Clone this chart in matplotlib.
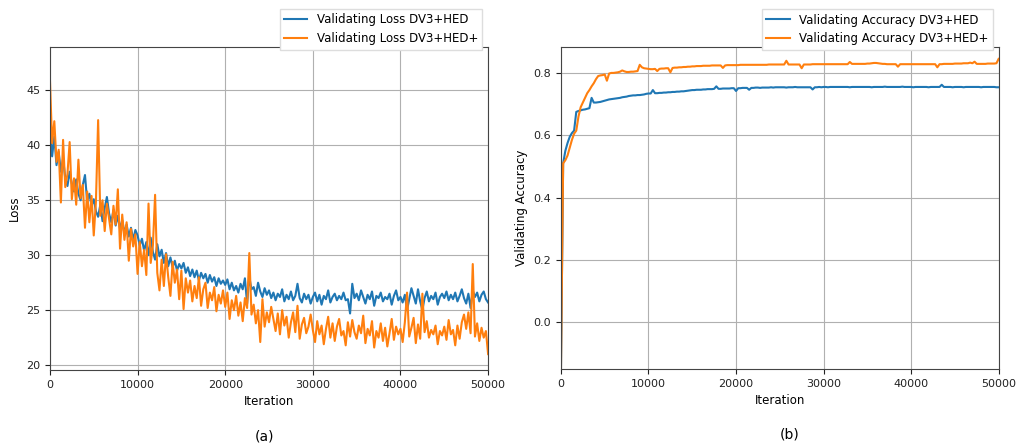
import matplotlib
matplotlib.use("Agg")
import matplotlib.pyplot as plt
import numpy as np

# 数据：每250次迭代记录一次
step = 250

loss_hed = [
    41.5, 39.0, 40.8, 38.2, 39.4, 37.6, 38.8, 37.0, 36.3, 37.6, 36.5, 35.8, 36.9, 35.6, 35.0, 36.4, 37.3, 34.9, 35.6, 34.5,
    35.1, 34.0, 33.5, 34.6, 33.1, 34.3, 35.3, 33.8, 33.0, 34.1, 32.7, 33.6, 32.4, 33.2, 32.0, 32.8, 31.7, 32.5, 31.4, 32.3,
    31.8, 30.9, 31.5, 30.4, 31.2, 30.0, 31.6, 30.3, 29.6, 31.0, 29.9, 30.5, 29.3, 30.2, 29.0, 29.8, 28.9, 29.5, 28.6, 29.2,
    28.8, 29.3, 28.4, 28.9, 28.1, 28.7, 28.0, 28.6, 27.7, 28.4, 27.9, 28.3, 27.5, 28.2, 27.6, 28.0, 27.2, 27.9, 27.4, 27.7,
    27.3, 27.8, 26.9, 27.5, 26.8, 27.2, 26.6, 27.4, 26.9, 27.9, 25.6, 28.0, 26.9, 27.1, 26.3, 27.5, 26.7, 26.2, 27.0, 26.4,
    26.8, 26.1, 26.6, 25.9, 26.5, 26.2, 26.9, 25.8, 26.4, 26.0, 26.7, 25.9, 26.3, 27.4, 26.1, 25.7, 26.5, 26.0, 26.4, 25.6,
    26.2, 26.6, 25.8, 26.4, 25.5, 26.3, 26.0, 26.8, 25.7, 26.2, 26.5, 25.9, 26.3, 26.0, 26.6, 25.9, 26.0, 24.7, 27.4, 26.1,
    26.5, 25.9, 26.8, 26.2, 25.6, 26.4, 26.0, 26.7, 25.4, 26.3, 26.1, 26.6, 25.8, 26.2, 26.0, 26.5, 25.5, 26.3, 26.8, 25.9,
    26.2, 25.7, 26.4, 25.0, 26.0, 27.0, 26.3, 25.6, 26.9, 25.8, 25.0, 26.1, 26.7, 25.8, 26.3, 26.0, 26.6, 25.5, 26.2, 26.5,
    26.1, 26.7, 25.9, 26.4, 26.0, 26.6, 25.8, 26.3, 26.9, 26.1, 25.6, 26.5, 25.2, 26.8, 26.2, 26.6, 25.8, 26.4, 26.7, 26.0,
    25.7,
]

loss_hed_plus = [
    46.0, 40.2, 42.2, 38.5, 39.6, 34.8, 40.5, 36.2, 37.4, 40.3, 35.1, 37.0, 34.6, 38.7, 35.2, 36.4, 32.5, 35.8, 33.0, 35.4,
    31.8, 34.9, 42.3, 33.6, 35.0, 32.2, 34.7, 33.3, 31.9, 34.5, 32.8, 36.0, 30.6, 33.7, 31.4, 33.0, 29.5, 32.4, 30.8, 31.9,
    28.3, 31.2, 29.0, 30.5, 28.2, 34.7, 29.3, 30.9, 35.5, 28.4, 26.8, 29.6, 27.2, 30.1, 28.0, 26.3, 29.4, 27.5, 28.7, 26.0,
    28.6, 25.1, 27.9, 26.6, 27.7, 25.8, 27.2, 26.1, 28.0, 25.4, 26.9, 27.5, 25.2, 26.6, 25.9, 27.1, 24.9, 26.4, 25.6, 26.8,
    25.3, 26.6, 24.2, 25.9, 25.0, 26.3, 24.5, 25.7, 24.0, 26.1, 25.2, 30.2, 24.6, 25.5, 23.8, 25.0, 22.1, 26.0, 23.5, 24.8,
    23.9, 25.3, 24.2, 23.1, 24.7, 22.8, 25.0, 23.6, 24.4, 22.5, 23.9, 24.8, 23.0, 25.4, 22.4, 23.7, 24.3, 22.9, 23.5, 24.6,
    23.2, 22.1, 24.0, 22.8, 23.6, 21.9, 23.3, 24.4, 22.5, 23.8, 22.2, 23.5, 24.2, 22.7, 23.1, 21.8, 23.9, 22.6, 24.1, 23.0,
    22.4, 23.6, 22.9, 24.5, 22.0, 23.3, 22.7, 24.0, 21.6, 23.1, 22.5, 23.8, 22.2, 23.4, 21.7, 22.9, 24.2, 22.3, 23.5, 22.8,
    23.3, 22.1, 23.9, 26.6, 22.6, 23.4, 24.3, 22.0, 23.7, 22.4, 26.5, 23.0, 24.0, 22.5, 23.2, 22.8, 23.6, 21.9, 23.1, 22.7,
    23.5, 22.3, 24.1, 22.8, 23.2, 21.8, 23.6, 22.4, 23.9, 24.6, 23.3, 24.8, 22.9, 29.2, 22.6, 23.8, 22.2, 23.4, 22.5, 23.1,
    21.0,
]

acc_hed = [
    -0.15, 0.51, 0.55, 0.575, 0.595, 0.607, 0.615, 0.675, 0.678, 0.680, 0.682, 0.683, 0.685, 0.687, 0.720, 0.705, 0.705, 0.706, 0.707, 0.709,
    0.711, 0.713, 0.715, 0.716, 0.717, 0.718, 0.719, 0.720, 0.722, 0.723, 0.724, 0.726, 0.727, 0.728, 0.728, 0.729, 0.729, 0.730, 0.731, 0.733,
    0.734, 0.734, 0.745, 0.735, 0.735, 0.736, 0.736, 0.737, 0.737, 0.738, 0.738, 0.739, 0.739, 0.740, 0.740, 0.741, 0.741, 0.742, 0.743, 0.744,
    0.745, 0.745, 0.746, 0.746, 0.746, 0.747, 0.747, 0.748, 0.748, 0.748, 0.749, 0.757, 0.749, 0.749, 0.750, 0.750, 0.750, 0.750, 0.751, 0.751,
    0.742, 0.751, 0.751, 0.752, 0.752, 0.752, 0.746, 0.752, 0.752, 0.753, 0.753, 0.752, 0.753, 0.753, 0.753, 0.753, 0.754, 0.753, 0.754, 0.754,
    0.754, 0.754, 0.754, 0.753, 0.754, 0.754, 0.754, 0.755, 0.754, 0.754, 0.754, 0.754, 0.754, 0.754, 0.754, 0.747, 0.754, 0.754, 0.755, 0.754,
    0.755, 0.755, 0.754, 0.755, 0.755, 0.755, 0.755, 0.755, 0.755, 0.755, 0.755, 0.755, 0.754, 0.755, 0.755, 0.755, 0.755, 0.755, 0.755, 0.755,
    0.755, 0.755, 0.754, 0.755, 0.755, 0.755, 0.755, 0.755, 0.756, 0.755, 0.755, 0.755, 0.755, 0.755, 0.755, 0.755, 0.756, 0.755, 0.755, 0.755,
    0.755, 0.754, 0.755, 0.755, 0.755, 0.755, 0.755, 0.755, 0.754, 0.755, 0.755, 0.755, 0.755, 0.755, 0.762, 0.755, 0.755, 0.755, 0.755, 0.754,
    0.755, 0.755, 0.755, 0.755, 0.754, 0.755, 0.755, 0.755, 0.755, 0.755, 0.755, 0.755, 0.754, 0.755, 0.755, 0.755, 0.755, 0.755, 0.755, 0.754,
    0.754,
]

acc_hed_plus = [
    -0.15, 0.51, 0.52, 0.535, 0.56, 0.585, 0.605, 0.615, 0.66, 0.69, 0.705, 0.72, 0.735, 0.745, 0.757, 0.767, 0.78, 0.790, 0.792, 0.793,
    0.795, 0.775, 0.798, 0.800, 0.800, 0.801, 0.802, 0.804, 0.808, 0.805, 0.803, 0.803, 0.804, 0.804, 0.805, 0.806, 0.826, 0.818, 0.815, 0.814,
    0.813, 0.812, 0.812, 0.813, 0.806, 0.813, 0.814, 0.814, 0.815, 0.815, 0.802, 0.816, 0.817, 0.817, 0.818, 0.818, 0.819, 0.819, 0.820, 0.820,
    0.821, 0.821, 0.822, 0.822, 0.822, 0.823, 0.823, 0.823, 0.823, 0.824, 0.824, 0.824, 0.824, 0.824, 0.816, 0.824, 0.825, 0.825, 0.825, 0.825,
    0.825, 0.825, 0.826, 0.826, 0.826, 0.826, 0.826, 0.826, 0.826, 0.826, 0.826, 0.826, 0.826, 0.826, 0.826, 0.827, 0.827, 0.827, 0.827, 0.827,
    0.827, 0.827, 0.827, 0.839, 0.827, 0.827, 0.827, 0.827, 0.827, 0.827, 0.815, 0.827, 0.827, 0.827, 0.827, 0.828, 0.828, 0.828, 0.828, 0.828,
    0.828, 0.828, 0.828, 0.828, 0.828, 0.828, 0.828, 0.828, 0.828, 0.828, 0.828, 0.828, 0.835, 0.829, 0.829, 0.829, 0.829, 0.829, 0.829, 0.829,
    0.830, 0.830, 0.831, 0.832, 0.832, 0.831, 0.830, 0.829, 0.829, 0.828, 0.828, 0.828, 0.828, 0.828, 0.820, 0.828, 0.828, 0.828, 0.828, 0.828,
    0.828, 0.828, 0.828, 0.828, 0.828, 0.828, 0.828, 0.828, 0.828, 0.828, 0.828, 0.828, 0.818, 0.828, 0.828, 0.829, 0.829, 0.829, 0.829, 0.829,
    0.830, 0.830, 0.830, 0.830, 0.831, 0.831, 0.831, 0.833, 0.831, 0.836, 0.829, 0.829, 0.829, 0.829, 0.829, 0.830, 0.830, 0.830, 0.830, 0.831,
    0.845,
]

it_loss = np.arange(len(loss_hed)) * step
it_loss_p = np.arange(len(loss_hed_plus)) * step
it_acc = np.arange(len(acc_hed)) * step
it_acc_p = np.arange(len(acc_hed_plus)) * step

plt.rcParams["font.family"] = "DejaVu Sans"
plt.rcParams["font.size"] = 8

fig = plt.figure(figsize=(10.19, 4.48), dpi=100)
ax1 = fig.add_axes([0.049, 0.174, 0.430, 0.721])
ax2 = fig.add_axes([0.5505, 0.176, 0.4295, 0.719])

# 子图(a)：损失
ax1.plot(it_loss, loss_hed, color="#1f77b4", lw=1.5, label="Validating Loss DV3+HED")
ax1.plot(it_loss_p, loss_hed_plus, color="#ff7f0e", lw=1.5, label="Validating Loss DV3+HED+")
ax1.set_xlim(0, 50000)
ax1.set_ylim(19.55, 48.95)
ax1.set_yticks([20, 25, 30, 35, 40, 45])
ax1.set_xlabel("Iteration", fontsize=8.5)
ax1.set_ylabel("Loss", fontsize=8.5)
ax1.grid(True, color="#b0b0b0", lw=0.8)
ax1.legend(loc="upper right", bbox_to_anchor=(1.0, 1.135), fontsize=8.5, framealpha=1,
           edgecolor="#dddddd", fancybox=False, borderpad=0.35, handlelength=2.0)

# 子图(b)：准确率
ax2.plot(it_acc, acc_hed, color="#1f77b4", lw=1.5, label="Validating Accuracy DV3+HED")
ax2.plot(it_acc_p, acc_hed_plus, color="#ff7f0e", lw=1.5, label="Validating Accuracy DV3+HED+")
ax2.set_xlim(0, 50000)
ax2.set_ylim(-0.15, 0.883)
ax2.set_yticks([0.0, 0.2, 0.4, 0.6, 0.8])
ax2.set_xlabel("Iteration", fontsize=8.5)
ax2.set_ylabel("Validating Accuracy", fontsize=8.5)
ax2.grid(True, color="#b0b0b0", lw=0.8)
ax2.legend(loc="upper right", bbox_to_anchor=(1.0, 1.135), fontsize=8.5, framealpha=1,
           edgecolor="#dddddd", fancybox=False, borderpad=0.35, handlelength=2.0)

for ax in (ax1, ax2):
    for s in ax.spines.values():
        s.set_color("#444444")
    ax.tick_params(labelsize=8, colors="#222222")

fig.text(265 / 1019, 1 - 436 / 448, "(a)", ha="center", va="center", fontsize=10)
fig.text(790 / 1019, 1 - 434 / 448, "(b)", ha="center", va="center", fontsize=10)

fig.savefig("out.png", dpi=100)
